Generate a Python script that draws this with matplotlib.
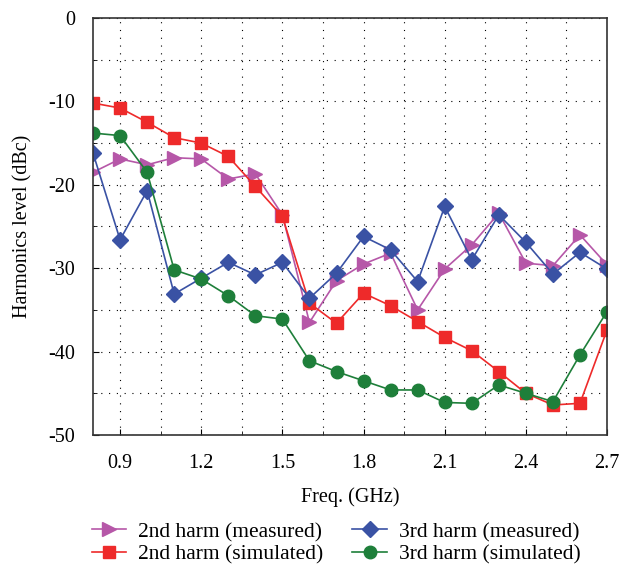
import matplotlib.pyplot as plt
from matplotlib.ticker import MultipleLocator

plt.rcParams['font.family'] = ['Liberation Serif', 'DejaVu Serif']
plt.rcParams['axes.unicode_minus'] = False

freq = [0.8, 0.9, 1.0, 1.1, 1.2, 1.3, 1.4, 1.5, 1.6, 1.7,
        1.8, 1.9, 2.0, 2.1, 2.2, 2.3, 2.4, 2.5, 2.6, 2.7]

harm2_meas = [-18.5, -16.9, -17.6, -16.75, -16.9, -19.3, -18.7, -23.6, -36.5, -31.5,
              -29.5, -28.2, -35.0, -30.1, -27.2, -23.4, -29.4, -29.7, -26.0, -29.6]
harm2_sim = [-10.2, -10.8, -12.5, -14.35, -15.0, -16.6, -20.2, -23.8, -34.2, -36.6,
             -33.0, -34.5, -36.4, -38.3, -39.9, -42.4, -45.0, -46.4, -46.2, -37.4]
harm3_meas = [-16.2, -26.6, -20.7, -33.1, -31.2, -29.3, -30.8, -29.3, -33.6, -30.6,
              -26.2, -27.8, -31.6, -22.6, -29.0, -23.6, -26.9, -30.7, -28.1, -30.1]
harm3_sim = [-13.8, -14.1, -18.5, -30.2, -31.3, -33.3, -35.7, -36.1, -41.1, -42.4,
             -43.5, -44.6, -44.6, -46.1, -46.2, -44.0, -45.0, -46.0, -40.4, -35.2]

fig = plt.figure(figsize=(6.21, 5.69), dpi=100)
ax = fig.add_axes([0.1498, 0.2355, 0.8277, 0.7329])

ax.plot(freq, harm2_meas, color='#b657a8', marker='>', markersize=10, linewidth=1.2,
        label='2nd harm (measured)')
ax.plot(freq, harm2_sim, color='#ee2a2a', marker='s', markersize=8, linewidth=1.2,
        label='2nd harm (simulated)')
ax.plot(freq, harm3_meas, color='#3a52a4', marker='D', markersize=8, linewidth=1.2,
        label='3rd harm (measured)')
ax.plot(freq, harm3_sim, color='#1e7f3a', marker='o', markersize=9, linewidth=1.2,
        label='3rd harm (simulated)')

ax.set_xlim(0.8, 2.7)
ax.set_ylim(-50, 0)
ax.xaxis.set_major_locator(MultipleLocator(0.3))
ax.xaxis.set_minor_locator(MultipleLocator(0.15))
ax.yaxis.set_major_locator(MultipleLocator(10))
ax.yaxis.set_minor_locator(MultipleLocator(5))
ax.set_xticks([0.9, 1.2, 1.5, 1.8, 2.1, 2.4, 2.7])
ax.tick_params(which='both', direction='in', labelsize=14.5, top=False, right=False)
ax.tick_params(axis='x', which='major', length=4, pad=14)
ax.tick_params(axis='y', which='major', length=4, pad=13)
ax.tick_params(which='minor', length=3)
ax.grid(True, which='both', color='black', linestyle=(0, (1, 6)), linewidth=0.8)

for s in ax.spines.values():
    s.set_color('#333333')
    s.set_linewidth(1.2)

ax.set_xlabel('Freq. (GHz)', fontsize=14.5, labelpad=10)
ax.set_ylabel('Harmonics level (dBc)', fontsize=14.5, labelpad=11)

ax.legend(loc='upper left', bbox_to_anchor=(-0.04, -0.162), ncol=2, frameon=False,
          fontsize=15.5, handlelength=1.6, columnspacing=1.35, labelspacing=0.1,
          handletextpad=0.55)

fig.savefig('out.png', dpi=100)
